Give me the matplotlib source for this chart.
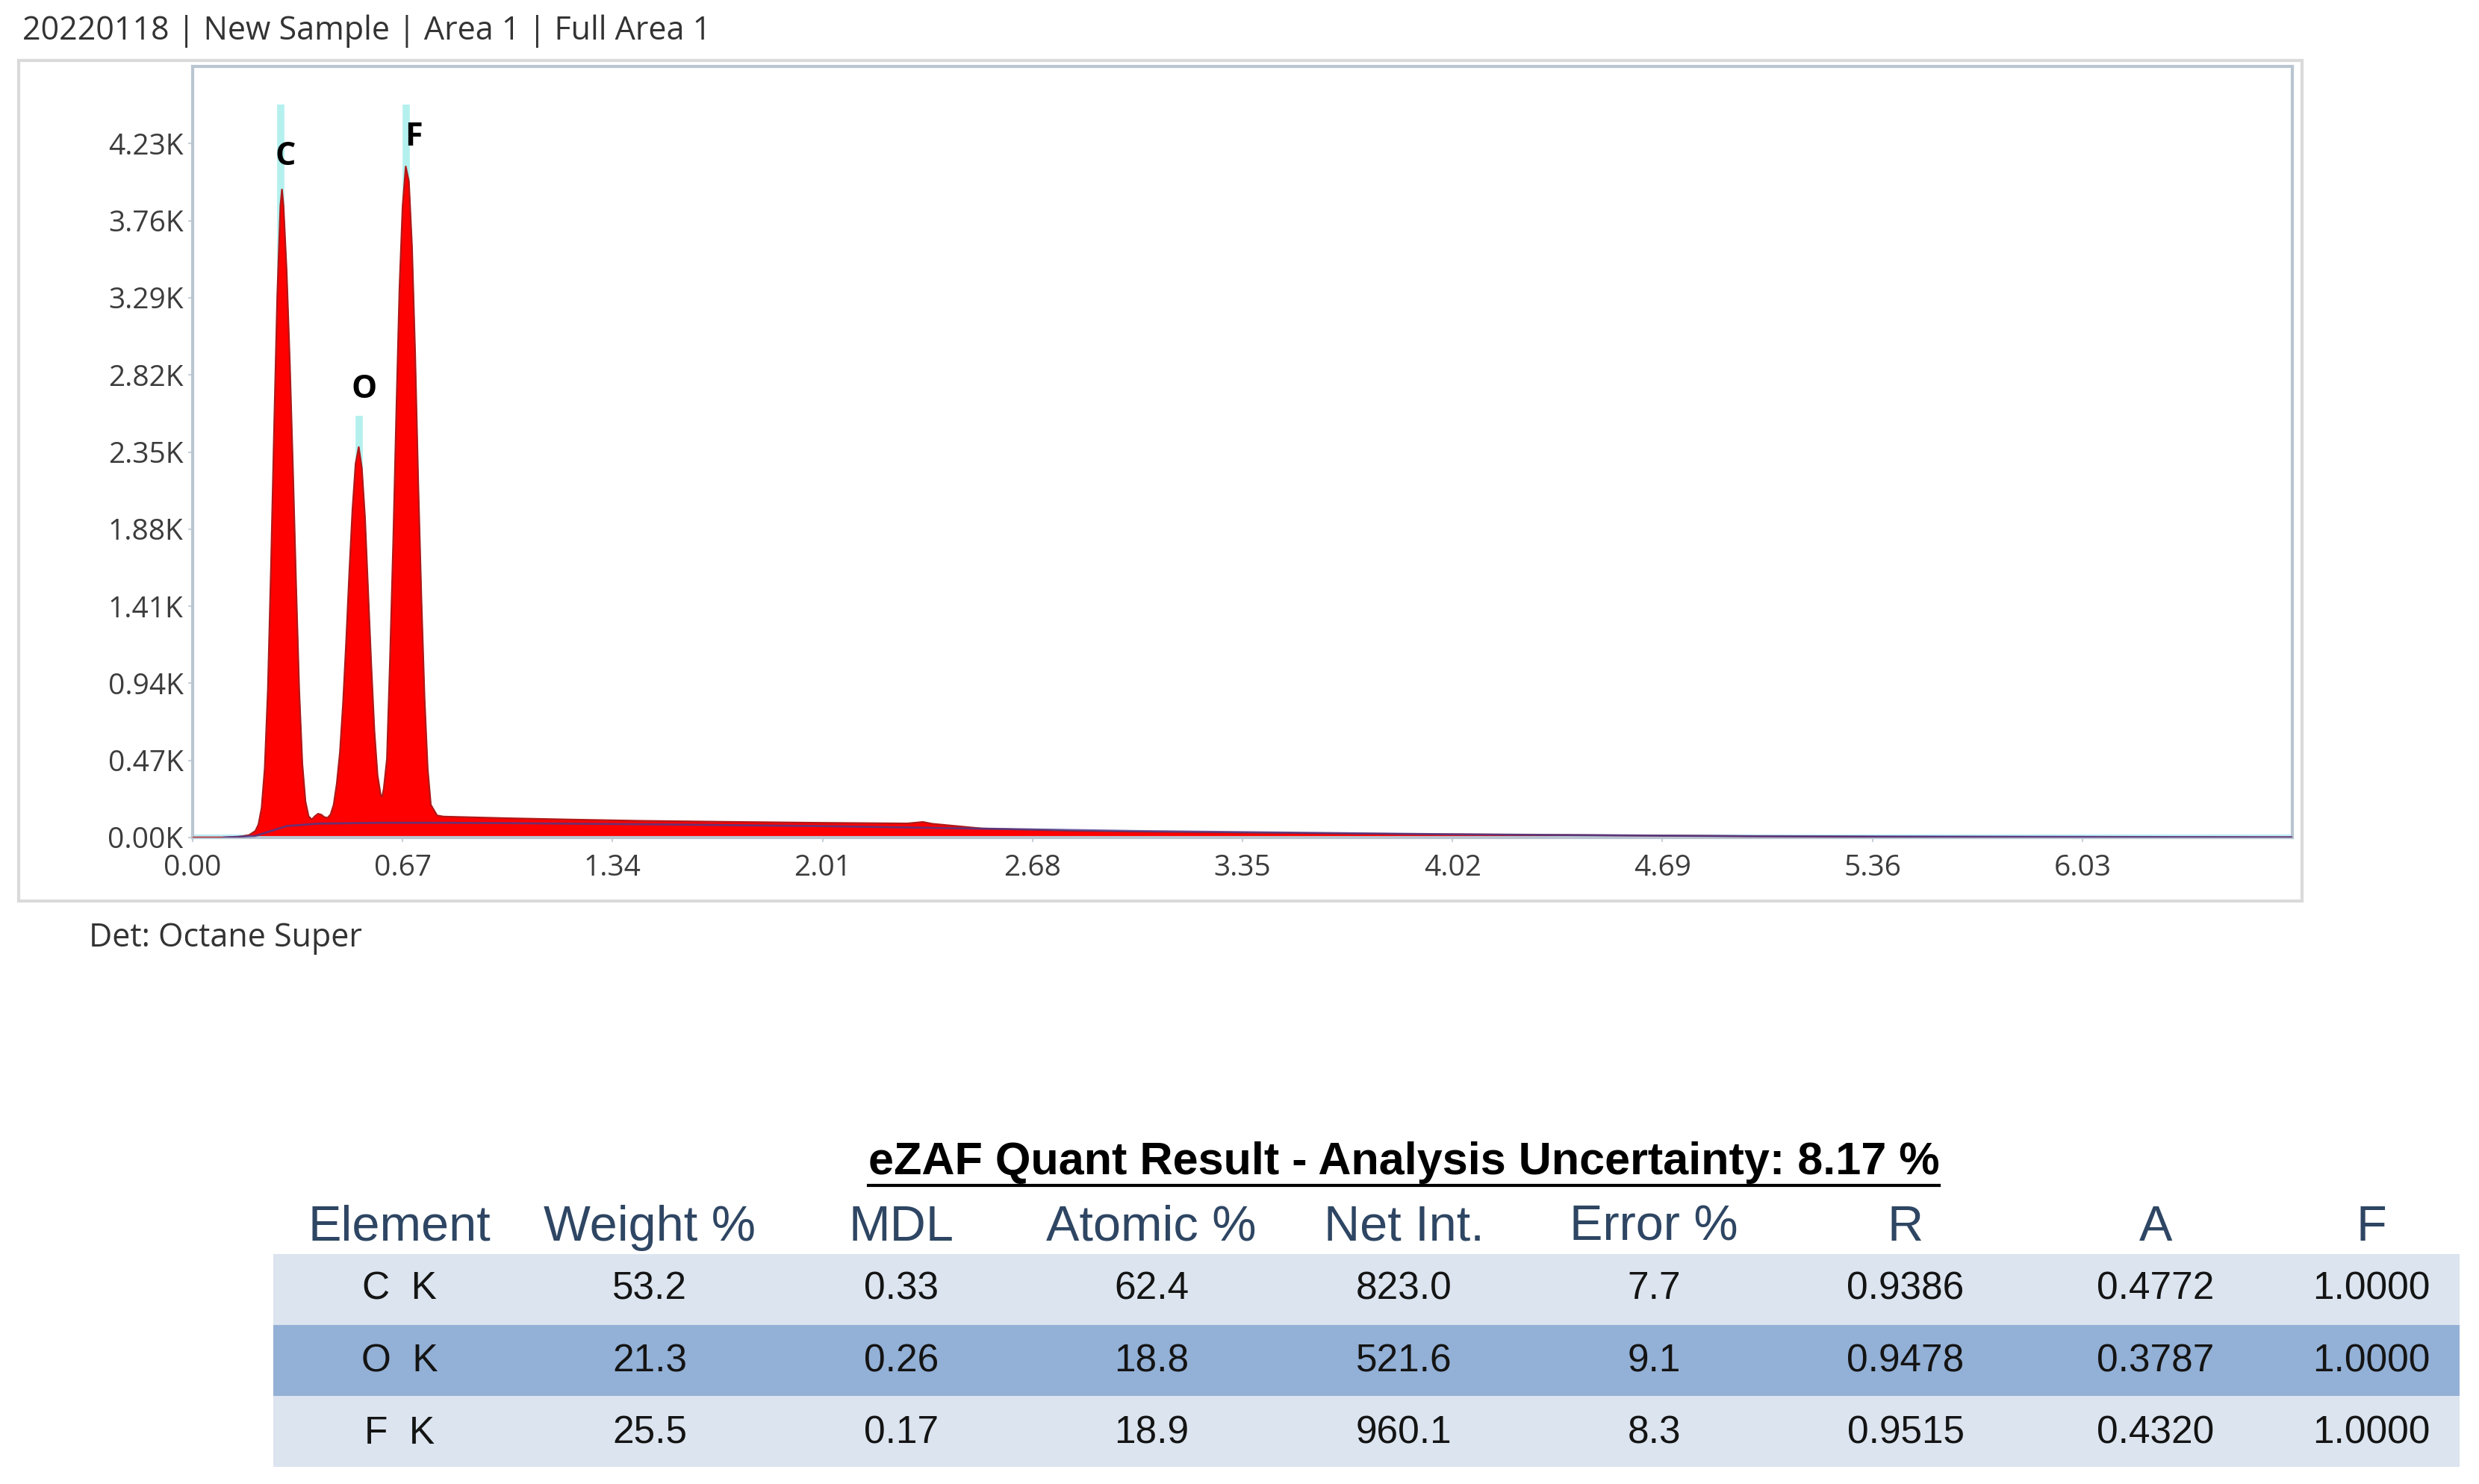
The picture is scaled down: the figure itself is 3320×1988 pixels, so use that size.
import matplotlib
matplotlib.use("Agg")
import matplotlib.pyplot as plt
from matplotlib.patches import Rectangle
from matplotlib.lines import Line2D

W, H = 3320, 1988

# spectrum (keV, counts)
energy = [0.00, 0.10, 0.15, 0.18, 0.20, 0.21, 0.22, 0.23, 0.24, 0.25, 0.26, 0.27, 0.28, 0.285,
          0.29, 0.30, 0.31, 0.32, 0.33, 0.34, 0.35, 0.36, 0.37, 0.38, 0.39, 0.40, 0.41, 0.42,
          0.43, 0.44, 0.45, 0.46, 0.47, 0.48, 0.49, 0.50, 0.51, 0.52, 0.53, 0.54, 0.55, 0.56,
          0.57, 0.58, 0.59, 0.60, 0.605, 0.61, 0.62, 0.63, 0.64, 0.65, 0.66, 0.67, 0.68, 0.69,
          0.70, 0.71, 0.72, 0.73, 0.74, 0.75, 0.76, 0.78, 0.80, 1.00, 1.20, 1.43, 1.70, 2.00,
          2.28, 2.33, 2.36, 2.52, 2.80, 3.20, 3.78, 4.40, 5.00, 5.40, 6.00, 6.70]
counts = [0, 0, 5, 15, 40, 80, 180, 420, 900, 1650, 2500, 3300, 3850, 3950,
          3850, 3450, 2900, 2250, 1550, 900, 450, 220, 130, 110, 130, 145, 140, 125,
          120, 140, 200, 330, 520, 820, 1200, 1620, 2000, 2280, 2380, 2250, 1950, 1500,
          1050, 650, 380, 260, 250, 300, 480, 1100, 1800, 2600, 3350, 3850, 4090, 4000,
          3600, 2950, 2150, 1450, 850, 420, 200, 135, 128, 118, 110, 102, 96, 90,
          86, 95, 84, 55, 40, 32, 23, 15, 8, 4, 2, 1]

# fitted background curve
bkg_energy = [0.10, 0.20, 0.25, 0.30, 0.40, 0.60, 0.80, 1.00, 1.50, 2.00, 2.50, 3.00, 4.00, 5.00, 6.70]
bkg_counts = [0, 10, 40, 70, 85, 90, 90, 88, 80, 70, 55, 40, 20, 8, 1]

# peak labels
peak_names = ["C", "O", "F"]
peak_energy = [0.282, 0.531, 0.681]
peak_marker_top = [4470, 2570, 4470]
label_energy = [0.297, 0.548, 0.705]
label_counts = [4150, 2730, 4270]

xticks = [0.00, 0.67, 1.34, 2.01, 2.68, 3.35, 4.02, 4.69, 5.36, 6.03]
yticks = [0, 470, 940, 1410, 1880, 2350, 2820, 3290, 3760, 4230]

# quant table
columns = ["Element", "Weight %", "MDL", "Atomic %", "Net Int.", "Error %", "R", "A", "F"]
elements = ["C  K", "O  K", "F  K"]
weight_pct = ["53.2", "21.3", "25.5"]
mdl = ["0.33", "0.26", "0.17"]
atomic_pct = ["62.4", "18.8", "18.9"]
net_int = ["823.0", "521.6", "960.1"]
error_pct = ["7.7", "9.1", "8.3"]
r_fac = ["0.9386", "0.9478", "0.9515"]
a_fac = ["0.4772", "0.3787", "0.4320"]
f_fac = ["1.0000", "1.0000", "1.0000"]


def fx(px):
    return px / W


def fy(py):
    return 1 - py / H


fig = plt.figure(figsize=(W / 100, H / 100), dpi=100)
fig.patch.set_facecolor("white")

# header line and outer frame
fig.text(fx(30), fy(42), "20220118 | New Sample | Area 1 | Full Area 1", family="Open Sans",
         fontsize=31, color="#333333", va="center", ha="left")
fig.add_artist(Rectangle((fx(25), fy(1207)), fx(3083) - fx(25), fy(81) - fy(1207),
                         transform=fig.transFigure, fill=False, edgecolor="#dadada", lw=3))
fig.text(fx(119), fy(1257), "Det: Octane Super", family="Open Sans", fontsize=31,
         color="#333333", va="center", ha="left")

ax = fig.add_axes([fx(258), fy(1122), fx(3070) - fx(258), fy(89) - fy(1122)])
ax.set_xlim(0, 6.7)
ax.set_ylim(0, 4700)

# peak marker lines sit behind the spectrum
for e, top in zip(peak_energy, peak_marker_top):
    ax.plot([e, e], [0, top], color="#b4f0ee", lw=7, solid_capstyle="butt", zorder=1)

ax.axhline(0, color="#bdeef8", lw=6, zorder=1)
ax.fill_between(energy, counts, 0, color="#ff0000", lw=0, zorder=2)
ax.plot(energy, counts, color="#b01818", lw=1.6, zorder=3)
ax.plot(bkg_energy, bkg_counts, color="#4a3a8c", lw=2, alpha=0.8, zorder=4)

for name, le, lc in zip(peak_names, label_energy, label_counts):
    ax.text(le, lc, name, family="Open Sans", fontweight="bold", fontsize=31,
            color="black", ha="center", va="center", zorder=5)

ax.set_xticks(xticks)
ax.set_xticklabels([f"{t:.2f}" for t in xticks])
ax.set_yticks(yticks)
ax.set_yticklabels([f"{t / 1000:.2f}K" for t in yticks])
ax.tick_params(axis="both", length=4, width=1.5, color="#c8d0d8", labelsize=28,
               labelcolor="#3c3c3c")
ax.tick_params(axis="x", pad=12)
ax.tick_params(axis="y", pad=5)
for lab in ax.get_xticklabels() + ax.get_yticklabels():
    lab.set_family("Open Sans")
for sp in ax.spines.values():
    sp.set_color("#b9c5d1")
    sp.set_linewidth(3)

# quant table
title = fig.text(fx(1880), fy(1557), "eZAF Quant Result - Analysis Uncertainty: 8.17 %",
                 family="Liberation Sans", fontweight="bold", fontsize=44, color="black",
                 ha="center", va="center")
fig.canvas.draw()
bb = title.get_window_extent(fig.canvas.get_renderer()).transformed(fig.transFigure.inverted())
fig.add_artist(Line2D([bb.x0, bb.x1], [fy(1588), fy(1588)], transform=fig.transFigure,
                      color="black", lw=3))

col_x = [535, 870, 1207, 1542, 1880, 2215, 2552, 2887, 3176]
row_y = [1727, 1824, 1920]
band_edges = [1680, 1775, 1870, 1965]
band_colors = ["#dbe4ef", "#93b0d6", "#dbe4ef"]
for i, c in enumerate(band_colors):
    fig.add_artist(Rectangle((fx(366), fy(band_edges[i + 1])), fx(3294) - fx(366),
                             fy(band_edges[i]) - fy(band_edges[i + 1]),
                             transform=fig.transFigure, facecolor=c, edgecolor="none"))

for x, name in zip(col_x, columns):
    fig.text(fx(x), fy(1645), name, family="Liberation Sans", fontsize=48,
             color="#2e4663", ha="center", va="center")

rows = list(zip(elements, weight_pct, mdl, atomic_pct, net_int, error_pct, r_fac, a_fac, f_fac))
for y, row in zip(row_y, rows):
    for x, val in zip(col_x, row):
        fig.text(fx(x), fy(y), val, family="Liberation Sans", fontsize=37,
                 color="#141414", ha="center", va="center")

fig.savefig("out.png", dpi=100)
